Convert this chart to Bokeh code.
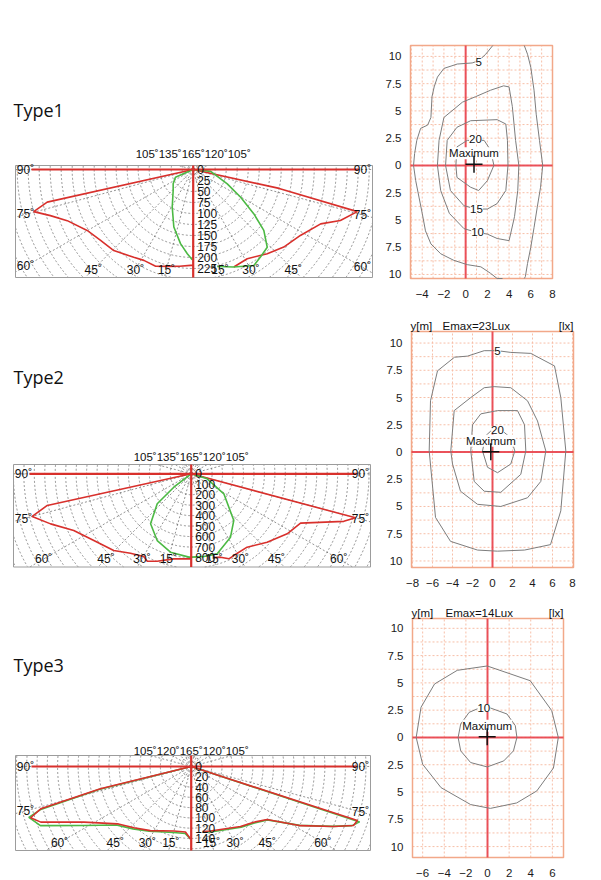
import numpy as np
from bokeh.plotting import figure
from bokeh.models import Range1d, FixedTicker, CustomJSTickFormatter
from bokeh.layouts import column, row
from bokeh.embed import file_html
from bokeh.resources import INLINE
from bokeh.core.properties import value

# ============================ DATA ============================
type_names = ["Type1", "Type2", "Type3"]
top_angle_texts = ["105˚135˚165˚120˚105˚", "105˚135˚165˚120˚105˚", "105˚120˚165˚120˚105˚"]
edge_angles = [15, 30, 45, 60, 75, 90]

t1_radial_labels = [0, 25, 50, 75, 100, 125, 150, 175, 200, 225]
t2_radial_labels = [0, 100, 200, 300, 400, 500, 600, 700, 800]
t3_radial_labels = [0, 20, 40, 60, 80, 100, 120, 140]

# polar curves: angle from nadir (deg) and intensity (cd/klm)
t1_red_left_ang = [90, 77.4, 75.2, 72.1, 67.9, 60.1, 52.6, 44.4, 34.1, 28.5, 21.2, 14.1, 8, 1.6, 0]
t1_red_left_val = [0, 340, 375, 341, 309, 278, 265, 258, 241, 235, 236, 227, 222, 218, 218]
t1_red_right_ang = [90, 77.6, 75.6, 70.9, 66.9, 58.4, 49.4, 41.3, 31.2, 22.6]
t1_red_right_val = [0, 200, 385, 354, 315, 286, 271, 255, 237, 240]
t1_green_left_ang = [90, 66.5, 54.4, 43.6, 29.1, 18.6, 9.7, 4, 0.6]
t1_green_left_val = [0, 44, 56, 66, 98, 138, 171, 192, 205]
t1_green_right_ang = [90, 84, 67.2, 59.7, 53.8, 49.2, 43.6, 37.5, 32.3, 22.6, 13.9]
t1_green_right_val = [0, 40, 84, 125, 171, 212, 244, 251, 258, 240, 227]

t2_red_left_ang = [90, 77.6, 75, 70.4, 64.2, 55.6, 45.3, 37.4, 29.8, 26.7, 21.3, 11.6, 1.6, 0]
t2_red_left_val = [0, 1409, 1574, 1427, 1247, 1128, 1042, 956, 911, 935, 897, 830, 813, 813]
t2_red_right_ang = [90, 75, 72.7, 65.7, 58, 48, 37.3, 27.5, 23.9, 19.4, 15]
t2_red_right_val = [0, 1626, 1528, 1147, 1082, 977, 882, 881, 889, 845, 830]
t2_green_left_ang = [90, 52.4, 48.6, 39.1, 27, 14.8, 1.6, 0]
t2_green_left_val = [0, 210, 433, 616, 716, 775, 797, 797]
t2_green_right_ang = [90, 72.6, 58.5, 42.4, 31.8, 18, 8, 0]
t2_green_right_val = [0, 160, 366, 604, 713, 804, 800, 797]

t3_red_left_ang = [90, 76.2, 74.3, 72.3, 69.7, 62.6, 52.2, 43, 32.5, 15, 5, 0.5]
t3_red_left_val = [0, 182, 304, 328, 312, 235, 182, 163, 148, 130, 128, 141]
t3_green_left_ang = [90, 76, 74, 72.6, 68.6, 61.2, 52, 43, 33, 15, 5, 0.5]
t3_green_left_val = [0, 185, 306, 331, 315, 238, 185, 166, 150, 133, 131, 141]
t3_red_right_ang = [90, 72, 70, 67.2, 61.6, 55.1, 48.3, 39.4, 16.6, 10]
t3_red_right_val = [0, 340, 336, 301, 242, 180, 163, 151, 131, 128]
t3_green_right_ang = [90, 71.8, 69.8, 67, 61.5, 55, 48.3, 39.4, 16.6, 10]
t3_green_right_val = [0, 345, 333, 298, 240, 181, 165, 153, 133, 129]

# isolux diagrams
y_ticks = [-10, -7.5, -5, -2.5, 0, 2.5, 5, 7.5, 10]
y_minor = [-8.75, -6.25, -3.75, -1.25, 1.25, 3.75, 6.25, 8.75]
c1_x_ticks = [-4, -2, 0, 2, 4, 6, 8]
c1_x_minor = [-5, -3, -1, 1, 3, 5, 7]
c2_x_ticks = [-8, -6, -4, -2, 0, 2, 4, 6, 8]
c3_x_ticks = [-6, -4, -2, 0, 2, 4, 6]
emax_texts = [None, "Emax=23Lux", "Emax=14Lux"]

c1_5a_x = [2.5, 1.85, 1.2, 0.6, -0.77, -2.0, -2.6, -2.9, -3.1, -3.2, -3.5, -4.15, -4.5, -4.7, -4.8, -4.6, -4.3, -4.0, -3.7, -3.2, -2.3, -1.1, 0.15, 1.4, 2.3, 2.9, 3.4]
c1_5a_y = [11.2, 10.2, 9.6, 9.4, 9.3, 8.9, 8.1, 7.2, 6.3, 4.4, 3.7, 3.4, 2.3, 1.1, 0, -1.4, -2.9, -4.4, -6.0, -7.2, -8.1, -8.7, -9.1, -9.3, -9.9, -10.5, -11.2]
c1_5b_x = [5.4, 5.7, 6.0, 6.3, 6.5, 6.8, 7.1, 6.9, 6.6, 6.3, 6.0, 5.7, 5.5, 5.4]
c1_5b_y = [11.2, 10.2, 9.0, 6.9, 4.7, 2.3, 0, -2.0, -3.8, -5.7, -7.5, -9.0, -10.2, -11.2]
c1_10_x = [-0.3, 0.9, 2.3, 3.5, 4.0, 4.3, 4.6, 4.9, 4.8, 4.5, 4.0, 2.9, 2.0, 0.9, -0.15, -1.5, -2.3, -2.6, -2.45, -2.0, -0.3]
c1_10_y = [5.8, 6.3, 6.9, 7.3, 7.2, 5.4, 2.3, 0, -2.3, -4.7, -6.9, -6.7, -6.3, -6.1, -5.8, -4.4, -2.3, 0, 2.3, 4.4, 5.8]
c1_15_x = [-0.8, 0.46, 2.9, 3.7, 3.85, 3.9, 3.7, 2.9, 2.0, 1.0, -0.15, -1.4, -1.85, -1.7, -0.8]
c1_15_y = [3.5, 4.1, 4.2, 3.8, 2.3, 0, -2.3, -3.5, -4.0, -4.0, -3.7, -2.3, 0, 2.3, 3.5]
c1_20_x = [-0.8, 0.15, 1.7, 2.3, 2.6, 2.0, 1.2, 0.46, -0.8, -0.9, -0.8]
c1_20_y = [1.7, 2.3, 2.3, 1.4, 0, -1.4, -2.3, -2.0, -1.1, 0, 1.7]
c1_label_x = [1.2, 1.1, 1.0, 0.9]
c1_label_y = [9.5, -6.1, -4.0, 2.4]
c1_label_text = ["5", "10", "15", "20"]
c1_max = (0.77, 0.1)

c2_5_x = [0.5, 1.83, 3.83, 6.2, 6.83, 7.33, 6.83, 5.8, 3.2, 0.5, -1.5, -4.2, -5.7, -6.33, -6.2, -5.5, -3.8, -2.5, -0.83, 0.5]
c2_5_y = [9.3, 9.14, 9.05, 7.9, 5.0, 0.1, -5.4, -8.5, -9.0, -9.1, -9.0, -8.2, -6.0, 0.1, 4.7, 7.45, 8.7, 8.8, 9.3, 9.3]
c2_10_x = [0.17, 1.83, 3.5, 4.5, 5.33, 4.83, 3.5, 0.83, -1.5, -3.2, -4.0, -4.17, -3.83, -2.17, -0.83, 0.17]
c2_10_y = [6.0, 5.9, 4.7, 2.85, 0.1, -2.7, -4.2, -5.0, -4.8, -3.6, -1.1, 0.1, 3.8, 5.0, 5.9, 6.0]
c2_15_x = [0.5, 2.5, 3.2, 3.33, 2.83, 0.83, -0.83, -1.83, -2.17, -2.0, -1.17, 0.5]
c2_15_y = [3.8, 3.8, 2.5, 0.1, -2.05, -3.7, -3.6, -2.7, 0.1, 2.5, 3.5, 3.8]
c2_20_x = [-0.2, 1.17, 1.83, 2.23, 1.83, 0.5, -0.5, -1.0, -0.67, -0.2]
c2_20_y = [1.9, 1.8, 1.3, 0.1, -1.1, -1.9, -1.4, 0.1, 1.5, 1.9]
c2_label_x = [0.5, 0.5]
c2_label_y = [9.3, 2.0]
c2_label_text = ["5", "20"]
c2_max = (-0.17, 0.03)

c3_out_x = [-0.03, 3.95, 5.94, 6.55, 6.1, 4.56, 2.7, 0.27, -1.56, -4.3, -6.0, -6.6, -6.15, -4.9, -2.8, -0.03]
c3_out_y = [6.55, 5.2, 2.46, 0, -2.8, -4.9, -6.0, -6.5, -6.15, -4.6, -2.46, 0, 2.77, 4.9, 6.15, 6.55]
c3_10_x = [-0.75, 0.27, 1.8, 2.57, 2.72, 2.4, 1.5, -0.03, -1.56, -2.48, -2.72, -2.48, -1.7, -0.75]
c3_10_y = [2.7, 2.7, 2.15, 1.08, 0, -1.23, -2.15, -2.7, -2.3, -1.23, 0, 1.23, 2.3, 2.7]
c3_label_x = [-0.34]
c3_label_y = [2.7]
c3_label_text = ["10"]
c3_max = (-0.03, 0.06)

# ============================ STYLE ============================
FONT = "Liberation Sans"
RED = "#d8302c"
GREEN = "#4cb944"
POLAR_GRID = "#555555"
ISO_GRID = "#f7bfa8"
ISO_FRAME = "#f2a889"
ISO_AXIS = "#e8404a"
CONTOUR = "#7d7d7d"
TXT = "#111111"


def polar_panel(width, height, t, b, cx, cy, scale, box, ring_step, radial_labels,
                top_text, top_py, type_name, type_py, curves):
    p = figure(width=width, height=height,
               x_range=Range1d((0 - cx) / scale, (width - cx) / scale),
               y_range=Range1d((cy - (height - b)) / scale, (cy - t) / scale),
               x_axis_location=None, y_axis_location=None, toolbar_location=None,
               output_backend="svg", title=None,
               min_border_left=0, min_border_right=0, min_border_top=t, min_border_bottom=b)
    p.grid.visible = False
    p.outline_line_color = None

    bl, bt, br, bb = box
    bx0, bx1 = (bl - cx) / scale, (br - cx) / scale
    by1, by0 = (cy - bt) / scale, (cy - bb) / scale

    rmax = np.hypot(max(abs(bx0), abs(bx1)), max(abs(by0), abs(by1)))
    rings = np.arange(ring_step, rmax + ring_step, ring_step)
    th = np.linspace(0, 2 * np.pi, 1441)
    rxs, rys = [], []
    for r in rings:
        xx = r * np.cos(th)
        yy = r * np.sin(th)
        out = (xx < bx0) | (xx > bx1) | (yy < by0) | (yy > by1)
        rxs.append(list(np.where(out, np.nan, xx)))
        rys.append(list(np.where(out, np.nan, yy)))
    p.multi_line(xs=rxs, ys=rys, line_color=POLAR_GRID, line_width=0.8, line_dash="2 2", line_alpha=0.8)

    sxs, sys_ = [], []
    for a in np.radians(np.arange(0, 360, 15)):
        dx, dy = np.sin(a), -np.cos(a)
        ts = []
        if dx > 1e-9:
            ts.append(bx1 / dx)
        if dx < -1e-9:
            ts.append(bx0 / dx)
        if dy > 1e-9:
            ts.append(by1 / dy)
        if dy < -1e-9:
            ts.append(by0 / dy)
        tt = min(ts)
        sxs.append([0, tt * dx])
        sys_.append([0, tt * dy])
    p.multi_line(xs=sxs, ys=sys_, line_color=POLAR_GRID, line_width=0.8, line_dash="2 2", line_alpha=0.8)

    p.quad(left=[bx0], right=[bx1], bottom=[by0], top=[by1], fill_color=None,
           line_color="#9c9c9c", line_width=1)

    for ang, val, side, color in curves:
        a = np.radians(np.array(ang, dtype=float))
        v = np.array(val, dtype=float)
        p.line(side * v * np.sin(a), -v * np.cos(a), line_color=color, line_width=1.6)

    p.segment(x0=[bx0 + 16 / scale, 0], y0=[0, by1], x1=[bx1 - 14 / scale, 0], y1=[0, by0],
              line_color=RED, line_width=2.2)

    p.text(x=[4 / scale] * len(radial_labels), y=[-v for v in radial_labels],
           text=[str(v) for v in radial_labels], text_font=value(FONT), text_font_size="12px",
           text_align="left", text_baseline="middle", text_color=TXT)

    mx, my = 10 / scale, 8 / scale
    lx, ly, lt = [], [], []
    for ang in edge_angles:
        a = np.radians(ang)
        for side in (-1, 1):
            dx, dy = side * np.sin(a), -np.cos(a)
            tx = ((bx1 - mx) / dx if dx > 0 else (bx0 + mx) / dx) if abs(dx) > 1e-9 else np.inf
            ty = (by0 + my) / dy if dy < -1e-9 else np.inf
            tt = min(tx, ty)
            lx.append(tt * dx)
            ly.append(tt * dy)
            lt.append(f"{ang}˚")
    p.text(x=lx, y=ly, text=lt, text_font=value(FONT), text_font_size="12px",
           text_align="center", text_baseline="middle", text_color=TXT)

    p.text(x=[0], y=[(cy - top_py) / scale], text=[top_text], text_font=value(FONT),
           text_font_size="11.5px", text_align="center", text_baseline="middle", text_color=TXT)
    p.text(x=[(13 - cx) / scale], y=[(cy - type_py) / scale], text=[type_name],
           text_font=value("Open Sans"), text_font_size="18px", text_align="left",
           text_baseline="alphabetic", text_color=TXT)
    return p


def contour_panel(width, height, box, head, xr, yr, xticks, xminor, lines,
                  lab_x, lab_y, lab_t, maxpt, emax, emax_dx):
    bl, bt, br, bb = box
    pad = 2
    sx = (br - bl) / (xr[1] - xr[0])
    sy = (bb - bt) / (yr[1] - yr[0])
    p = figure(width=width, height=height,
               x_range=Range1d(xr[0] - pad / sx, xr[1] + pad / sx),
               y_range=Range1d(yr[0] - pad / sy, yr[1] + head / sy),
               toolbar_location=None, output_backend="svg", title=None,
               min_border_left=bl - pad, min_border_right=width - br - pad,
               min_border_top=bt - head, min_border_bottom=height - bb - pad)
    p.xaxis.ticker = FixedTicker(ticks=xticks, minor_ticks=[])
    p.yaxis.ticker = FixedTicker(ticks=y_ticks, minor_ticks=[])
    p.yaxis.formatter = CustomJSTickFormatter(code="return Math.abs(tick).toString();")
    for ax in p.axis:
        ax.axis_line_color = None
        ax.major_tick_line_color = None
        ax.minor_tick_line_color = None
        ax.major_label_text_font = FONT
        ax.major_label_text_font_size = "11.5px"
        ax.major_label_text_color = "#1a1a1a"
    p.xaxis.major_label_standoff = 3
    p.yaxis.major_label_standoff = 1
    p.grid.visible = False
    p.outline_line_color = None

    gx = [v for v in sorted(xticks + xminor) if xr[0] < v < xr[1]]
    gy = [v for v in sorted(y_ticks + y_minor) if yr[0] < v < yr[1]]
    p.multi_line(xs=[[v, v] for v in gx], ys=[[yr[0], yr[1]] for v in gx],
                 line_color=ISO_GRID, line_width=1, line_dash="2 2")
    p.multi_line(xs=[[xr[0], xr[1]] for v in gy], ys=[[v, v] for v in gy],
                 line_color=ISO_GRID, line_width=1, line_dash="2 2")
    p.quad(left=[xr[0]], right=[xr[1]], bottom=[yr[0]], top=[yr[1]], fill_color=None,
           line_color=ISO_FRAME, line_width=1.5)
    p.segment(x0=[0, xr[0]], y0=[yr[0], 0], x1=[0, xr[1]], y1=[yr[1], 0],
              line_color=ISO_AXIS, line_width=2, line_alpha=0.9)

    for xs, ys in lines:
        xs = np.array(xs, dtype=float)
        ys = np.array(ys, dtype=float)
        p.line(xs, np.clip(ys, yr[0], yr[1]), line_color=CONTOUR, line_width=1)

    p.text(x=lab_x, y=lab_y, text=lab_t, text_font=value(FONT), text_font_size="11.5px",
           text_align="center", text_baseline="middle", text_color=TXT,
           background_fill_color="white")
    p.text(x=[maxpt[0]], y=[maxpt[1] + 11 / sy], text=["Maximum"], text_font=value(FONT),
           text_font_size="11.5px", text_align="center", text_baseline="middle", text_color=TXT,
           background_fill_color="white")
    p.scatter([maxpt[0]], [maxpt[1]], marker="cross", size=17, line_color=TXT, line_width=1.5)

    if emax is not None:
        ytop = yr[1] + 6 / sy
        p.text(x=[xr[0] - 1 / sx, xr[0] + emax_dx / sx, xr[1]], y=[ytop] * 3,
               text=["y[m]", emax, "[lx]"], text_font=value(FONT), text_font_size="11.5px",
               text_align=["left", "left", "right"], text_baseline="middle", text_color=TXT)
    return p


c1 = contour_panel(221, 300, (30, 45, 172, 278), 4, (-5.08, 8.0), (-10.37, 11.0), c1_x_ticks, c1_x_minor,
                   [(c1_5a_x, c1_5a_y), (c1_5b_x, c1_5b_y), (c1_10_x, c1_10_y), (c1_15_x, c1_15_y), (c1_20_x, c1_20_y)],
                   c1_label_x, c1_label_y, c1_label_text, c1_max, emax_texts[0], 0)
c2 = contour_panel(221, 290, (31, 31, 193, 267), 16, (-8.1, 8.1), (-10.6, 11.06), c2_x_ticks, [],
                   [(c2_5_x, c2_5_y), (c2_10_x, c2_10_y), (c2_15_x, c2_15_y), (c2_20_x, c2_20_y)],
                   c2_label_x, c2_label_y, c2_label_text, c2_max, emax_texts[1], 31)
c3 = contour_panel(221, 290, (32, 28, 183, 267), 16, (-6.94, 7.03), (-11.0, 10.9), c3_x_ticks, [],
                   [(c3_out_x, c3_out_y), (c3_10_x, c3_10_y)],
                   c3_label_x, c3_label_y, c3_label_text, c3_max, emax_texts[2], 33)

p1 = polar_panel(380, 300, 41, 20, 192.7, 169, 0.44, (15, 165, 372, 277), 25, t1_radial_labels,
                 top_angle_texts[0], 153, type_names[0], 109,
                 [(t1_red_left_ang, t1_red_left_val, -1, RED), (t1_red_right_ang, t1_red_right_val, 1, RED),
                  (t1_green_left_ang, t1_green_left_val, -1, GREEN), (t1_green_right_ang, t1_green_right_val, 1, GREEN)])
p2 = polar_panel(380, 290, 15, 21, 190.7, 173.3, 0.1046, (13, 164, 370, 266.5), 100, t2_radial_labels,
                 top_angle_texts[1], 156.7, type_names[1], 76,
                 [(t2_red_left_ang, t2_red_left_val, -1, RED), (t2_red_right_ang, t2_red_right_val, 1, RED),
                  (t2_green_left_ang, t2_green_left_val, -1, GREEN), (t2_green_right_ang, t2_green_right_val, 1, GREEN)])
p3 = polar_panel(380, 290, 12, 21, 190.7, 176, 0.514, (15, 165, 370, 260), 20, t3_radial_labels,
                 top_angle_texts[2], 160, type_names[2], 74,
                 [(t3_green_left_ang, t3_green_left_val, -1, GREEN), (t3_green_right_ang, t3_green_right_val, 1, GREEN),
                  (t3_red_left_ang, t3_red_left_val, -1, RED), (t3_red_right_ang, t3_red_right_val, 1, RED)])

layout = column(row(p1, c1), row(p2, c2), row(p3, c3))
open("out.html", "w").write(file_html(layout, INLINE))
